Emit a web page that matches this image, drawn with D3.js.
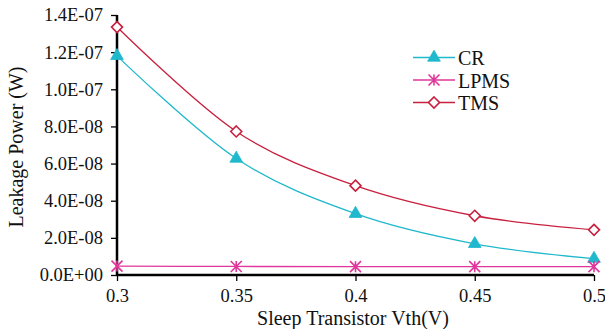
<!DOCTYPE html>
<html>
<head>
<meta charset="utf-8">
<script src="https://cdn.jsdelivr.net/npm/d3@7"></script>
<style>
  html, body { margin: 0; padding: 0; background: #fff; }
  svg { display: block; }
  text { font-family: "Liberation Serif", "DejaVu Serif", serif; fill: #111; }
</style>
</head>
<body>
<svg id="chart" width="605" height="329"></svg>
<script>
// Sleep transistor threshold voltage (V)
const vth = [0.3, 0.35, 0.4, 0.45, 0.5];
const xTickLabels = ["0.3", "0.35", "0.4", "0.45", "0.5"];
// Leakage power (W) per scheme
const crValues   = [1.18e-7, 6.27e-8, 3.30e-8, 1.68e-8, 0.88e-8];
const lpmsValues = [4.8e-9, 4.6e-9, 4.5e-9, 4.5e-9, 4.5e-9];
const tmsValues  = [1.335e-7, 7.73e-8, 4.81e-8, 3.19e-8, 2.43e-8];
const yTicks = [0, 2e-8, 4e-8, 6e-8, 8e-8, 1e-7, 1.2e-7, 1.4e-7];
const yTickLabels = ["0.0E+00", "2.0E-08", "4.0E-08", "6.0E-08", "8.0E-08", "1.0E-07", "1.2E-07", "1.4E-07"];
const seriesNames = ["CR", "LPMS", "TMS"];

const svg = d3.select("#chart");
const margin = { left: 117, right: 11, top: 15, bottom: 54 };
const W = 605, H = 329;

const x = d3.scaleLinear().domain([0.3, 0.5]).range([margin.left, W - margin.right]);
const y = d3.scaleLinear().domain([0, 1.4e-7]).range([H - margin.bottom, margin.top]);

const series = [
  { name: seriesNames[0], values: crValues,   color: "#1fb8cc", marker: "triangle" },
  { name: seriesNames[1], values: lpmsValues, color: "#e0369b", marker: "asterisk" },
  { name: seriesNames[2], values: tmsValues,  color: "#c8203f", marker: "diamond" }
];

// Axes
const yAxis = d3.axisLeft(y).tickValues(yTicks)
  .tickFormat((d, i) => yTickLabels[i]).tickSize(6).tickPadding(8);
const xAxis = d3.axisBottom(x).tickValues(vth)
  .tickFormat((d, i) => xTickLabels[i]).tickSize(6).tickPadding(8);

const gy = svg.append("g").attr("transform", `translate(${margin.left},0)`).call(yAxis);
const gx = svg.append("g").attr("transform", `translate(0,${H - margin.bottom})`).call(xAxis);
[gx, gy].forEach(g => {
  g.select(".domain").attr("stroke", "#000").attr("stroke-width", 2.5);
  g.selectAll(".tick line").attr("stroke", "#000").attr("stroke-width", 1.3);
  g.selectAll(".tick text").attr("font-size", 18.5)
    .attr("font-family", "'Liberation Serif', serif").attr("fill", "#111");
});
gx.select(".domain").attr("d", `M${margin.left},0H${W - margin.right}`);
gy.select(".domain").attr("d", `M0,${margin.top}V${H - margin.bottom}`);

// Axis titles
svg.append("text")
  .attr("x", 353).attr("y", 325)
  .attr("text-anchor", "middle").attr("font-size", 20)
  .text("Sleep Transistor Vth(V)");
svg.append("text")
  .attr("transform", `translate(23,147) rotate(-90)`)
  .attr("text-anchor", "middle").attr("font-size", 20)
  .text("Leakage Power (W)");

// Marker drawing
function drawMarker(g, type, color, cx, cy) {
  if (type === "triangle") {
    g.append("path")
      .attr("d", d3.symbol(d3.symbolTriangle, 70)())
      .attr("transform", `translate(${cx},${cy})`)
      .attr("fill", color).attr("stroke", color).attr("stroke-width", 0.8);
  } else if (type === "diamond") {
    const r = 5.5;
    g.append("path")
      .attr("d", `M${cx},${cy - r}L${cx + r},${cy}L${cx},${cy + r}L${cx - r},${cy}Z`)
      .attr("fill", "#fff").attr("stroke", color).attr("stroke-width", 1.6);
  } else if (type === "asterisk") {
    const r = 5.5;
    const p = `M${cx - r},${cy - r}L${cx + r},${cy + r}M${cx - r},${cy + r}L${cx + r},${cy - r}M${cx},${cy - r}L${cx},${cy + r}`;
    g.append("path").attr("d", p)
      .attr("stroke", color).attr("stroke-width", 1.6).attr("fill", "none");
  }
}

const line = d3.line()
  .x(d => x(d[0])).y(d => y(d[1]))
  .curve(d3.curveCardinal.tension(0));

const plot = svg.append("g");
series.forEach(s => {
  const pts = vth.map((v, i) => [v, s.values[i]]);
  plot.append("path").datum(pts)
    .attr("d", line).attr("fill", "none")
    .attr("stroke", s.color).attr("stroke-width", 1.3);
});
series.forEach(s => {
  const g = plot.append("g");
  vth.forEach((v, i) => drawMarker(g, s.marker, s.color, x(v), y(s.values[i])));
});

// Legend
const legend = svg.append("g");
series.forEach((s, i) => {
  const ly = 57.5 + i * 22.5;
  legend.append("line")
    .attr("x1", 413).attr("x2", 455).attr("y1", ly).attr("y2", ly)
    .attr("stroke", s.color).attr("stroke-width", 1.3);
  drawMarker(legend, s.marker, s.color, 434, ly);
  legend.append("text")
    .attr("x", 458).attr("y", ly + 7.5)
    .attr("font-size", 20).text(s.name);
});
</script>
</body>
</html>
